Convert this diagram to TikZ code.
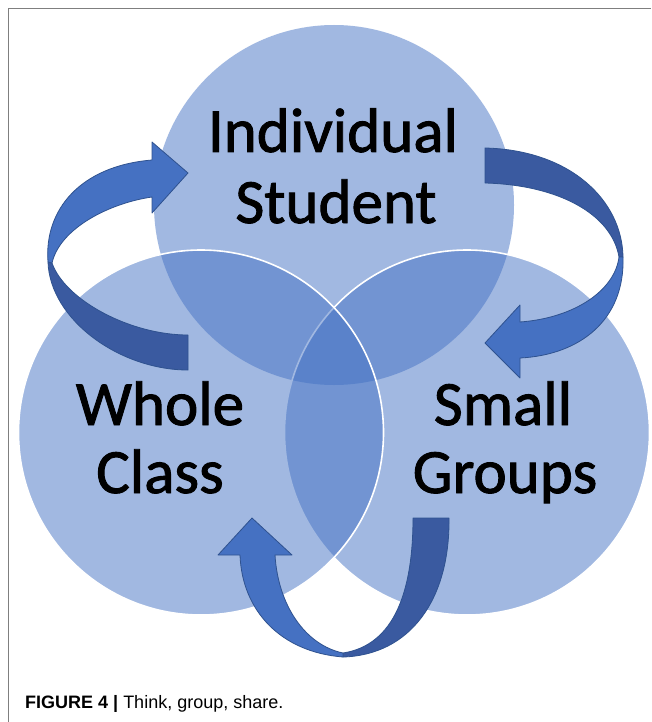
\documentclass[tikz,border=0pt]{standalone}
\usepackage{fontspec}
\newfontfamily\calib[FakeBold=1.5]{Carlito}
\newfontfamily\capfont{Liberation Sans}
\definecolor{circblue}{HTML}{4472C4}
\definecolor{arrlight}{HTML}{4571C2}
\definecolor{arrdark}{HTML}{3A5AA0}
\definecolor{arrline}{HTML}{2F528F}
\definecolor{framegray}{HTML}{7F7F7F}
\begin{document}
\begin{tikzpicture}[x=1pt,y=-1pt,
  circfill/.style={fill=circblue, fill opacity=0.5},
  circedge/.style={circfill, draw=white, draw opacity=1, line width=1.6pt},
  lbltext/.style={font=\calib\fontsize{63}{71}\selectfont, anchor=base, inner sep=0pt, text=black},
  lightband/.style={fill=arrlight, draw=arrline, line width=0.8pt, line join=round},
  darkband/.style={fill=arrdark, draw=arrline, line width=0.8pt, line join=round},
  framerule/.style={draw=framegray, line width=1pt}]
\useasboundingbox (0,0) rectangle (651,722);
\fill[white] (0,0) rectangle (651,722);
% frame
\draw[framerule] (8.5,722) -- (8.5,8.5) -- (651,8.5);
% circles
\path[circfill] (334,205) circle[radius=180pt];
\path[circedge] (467,432.5) circle[radius=182.5pt];
\path[circedge] (201,432.5) circle[radius=182.5pt];
% labels
\node[lbltext] (ind1) at (333,152) {Individual};
\node[lbltext] (ind2) at (336,223) {Student};
\node[lbltext] (who1) at (160,425) {Whole};
\node[lbltext] (who2) at (160,493) {Class};
\node[lbltext] (sma1) at (503,425) {Small};
\node[lbltext] (sma2) at (505,493) {Groups};
% arrow 1 (left)
\draw[darkband] (48,262) .. controls (50,320) and (120,370) .. (188,370) -- (188,335) .. controls (130,335) and (65,300) .. (52,263) -- cycle;
\draw[lightband] (152,160) -- (152,142) -- (188,173) -- (152,213) -- (152,197) .. controls (110,203) and (60,228) .. (52,263) -- (48,262) .. controls (44,210) and (80,166) .. (152,160) -- cycle;
% arrow 2 (right)
\draw[darkband] (485,148) .. controls (570,150) and (622,200) .. (623,257) -- (619,257) .. controls (612,215) and (560,185) .. (485,183) -- cycle;
\draw[lightband] (623,257) .. controls (625,320) and (580,355) .. (520,358) -- (520,378) -- (485,343) -- (520,305) -- (520,322) .. controls (575,318) and (615,290) .. (619,257) -- cycle;
% arrow 3 (bottom)
\draw[darkband] (413,518) -- (449,518) .. controls (450,600) and (410,655) .. (343,657) -- (343,653) .. controls (395,645) and (413,590) .. (413,518) -- cycle;
\draw[lightband] (343,657) .. controls (280,652) and (242,610) .. (240,555) -- (218,555) -- (252,518) -- (292,555) -- (275,555) .. controls (278,605) and (305,645) .. (343,653) -- cycle;
% caption
\node[anchor=base west, inner sep=0pt, font=\capfont\fontsize{18}{20}\selectfont] (cap) at (25,708) {\textbf{FIGURE 4 |} Think, group, share.};
\end{tikzpicture}
\end{document}
